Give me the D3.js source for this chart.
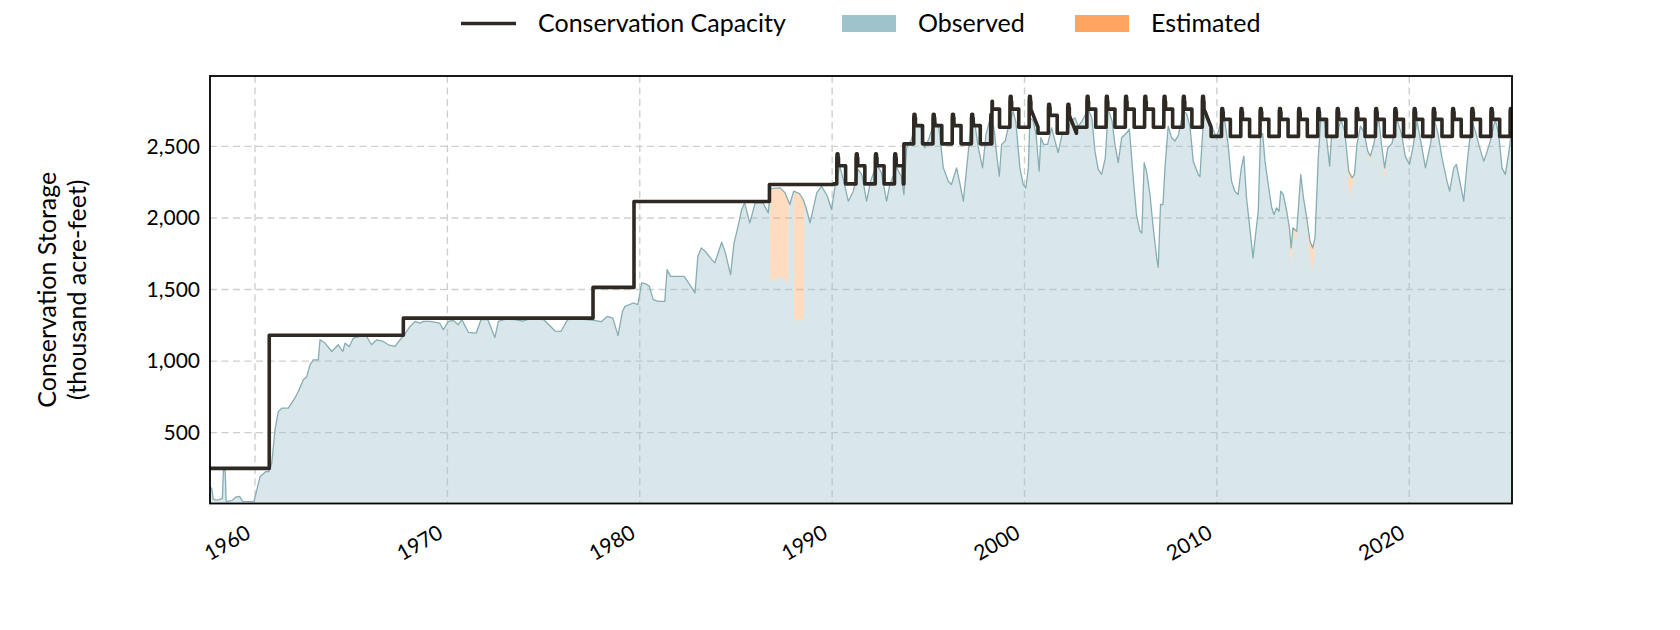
<!DOCTYPE html>
<html><head><meta charset="utf-8">
<script src="https://cdn.jsdelivr.net/npm/d3@7"></script>
<style>
body{margin:0;background:#fff;}
svg{display:block;font-family:Lato,"Open Sans",sans-serif;}
</style>
</head><body>
<svg id="chart" width="1680" height="630"></svg>
<script>
// ---------------- data ----------------
const xTickYears = [1960, 1970, 1980, 1990, 2000, 2010, 2020];
const yTickValues = [500, 1000, 1500, 2000, 2500];
const legendLabels = ["Conservation Capacity", "Observed", "Estimated"];
const yTitleLines = ["Conservation Storage", "(thousand acre-feet)"];

// total conservation storage (decimal year, thousand acre-feet)
const storage = [
[1957.66,120],[1957.75,110],[1957.83,35],[1957.95,30],[1958.1,30],[1958.3,40],[1958.36,240],[1958.45,235],[1958.5,20],
[1958.8,25],[1959.0,50],[1959.2,55],[1959.35,20],[1959.7,18],[1959.95,20],[1960.09,99],[1960.26,192],[1960.55,227],
[1960.71,227],[1960.87,286],[1961.04,519],[1961.21,647],[1961.39,671],[1961.73,671],[1961.9,706],[1962.07,741],
[1962.25,787],[1962.51,869],[1962.68,888],[1962.86,974],[1963.03,1009],[1963.29,1009],[1963.38,1149],[1963.64,1126],
[1963.99,1067],[1964.33,1114],[1964.56,1067],[1964.68,1126],[1964.9,1100],[1965.11,1161],[1965.45,1172],[1965.8,1172],
[1966.06,1114],[1966.33,1149],[1966.67,1137],[1966.93,1114],[1967.28,1102],[1967.54,1149],[1967.8,1191],[1968.06,1242],
[1968.32,1277],[1968.58,1265],[1968.75,1277],[1969.1,1277],[1969.6,1265],[1969.79,1219],[1970.05,1277],[1970.3,1285],
[1970.56,1254],[1970.75,1290],[1971.1,1200],[1971.5,1196],[1971.75,1290],[1972.1,1290],[1972.47,1165],[1972.65,1277],
[1973.0,1292],[1973.5,1290],[1973.9,1280],[1974.3,1295],[1975.0,1290],[1975.6,1210],[1975.9,1207],[1976.25,1290],
[1976.8,1295],[1977.2,1290],[1977.6,1285],[1978.0,1275],[1978.3,1312],[1978.6,1300],[1978.87,1178],[1979.1,1347],
[1979.23,1382],[1979.66,1406],[1979.9,1395],[1980.1,1546],[1980.3,1540],[1980.5,1522],[1980.7,1429],[1980.95,1417],
[1981.3,1417],[1981.42,1639],[1981.6,1592],[1982.0,1592],[1982.3,1592],[1982.6,1534],[1982.87,1476],[1983.02,1732],
[1983.2,1791],[1983.45,1760],[1983.74,1709],[1983.9,1686],[1984.26,1830],[1984.45,1756],[1984.72,1604],[1984.9,1826],
[1985.07,1919],[1985.3,2059],[1985.45,2106],[1985.72,1966],[1986.0,2106],[1986.4,2106],[1986.68,2036],[1986.8,2205],
[1987.3,2210],[1987.55,2176],[1987.8,2094],[1988.0,2187],[1988.3,2170],[1988.5,2129],[1988.67,2059],[1988.85,1966],
[1989.2,2176],[1989.45,2222],[1989.75,2152],[1989.97,2059],[1990.15,2222],[1990.4,2362],[1990.6,2257],[1990.84,2117],
[1991.1,2187],[1991.36,2339],[1991.55,2300],[1991.79,2117],[1992.0,2257],[1992.31,2374],[1992.55,2320],[1992.83,2117],
[1993.0,2234],[1993.35,2350],[1993.6,2290],[1993.73,2164],[1993.87,2490],[1994.13,2549],[1994.3,2654],[1994.6,2650],
[1994.82,2490],[1995.05,2560],[1995.34,2689],[1995.55,2630],[1995.78,2350],[1996.04,2257],[1996.2,2234],[1996.47,2350],
[1996.65,2234],[1996.82,2117],[1997.08,2467],[1997.2,2630],[1997.4,2677],[1997.6,2490],[1997.82,2350],[1998.0,2584],
[1998.29,2735],[1998.45,2584],[1998.55,2444],[1998.69,2292],[1998.81,2514],[1999.0,2540],[1999.15,2630],[1999.41,2747],
[1999.55,2670],[1999.76,2350],[1999.93,2234],[2000.07,2211],[2000.2,2350],[2000.28,2700],[2000.45,2680],[2000.6,2584],
[2000.76,2327],[2000.85,2561],[2001.0,2514],[2001.2,2514],[2001.41,2630],[2001.58,2540],[2001.75,2456],[2001.95,2584],
[2002.2,2584],[2002.38,2665],[2002.62,2700],[2002.8,2640],[2003.0,2680],[2003.31,2759],[2003.5,2700],[2003.66,2467],
[2003.83,2339],[2004.01,2304],[2004.2,2420],[2004.35,2759],[2004.55,2680],[2004.7,2514],[2004.87,2386],[2005.05,2560],
[2005.31,2595],[2005.45,2620],[2005.65,2281],[2005.82,2024],[2006.0,1907],[2006.1,1895],[2006.22,2386],[2006.35,2320],
[2006.52,2164],[2006.69,1931],[2006.87,1721],[2006.95,1655],[2007.07,2094],[2007.2,2094],[2007.3,2350],[2007.47,2642],
[2007.65,2560],[2007.82,2537],[2008.0,2580],[2008.25,2747],[2008.42,2730],[2008.6,2640],[2008.77,2397],[2009.03,2304],
[2009.12,2290],[2009.29,2665],[2009.45,2747],[2009.65,2665],[2009.98,2561],[2010.2,2665],[2010.41,2677],[2010.58,2514],
[2010.76,2257],[2010.93,2187],[2011.1,2164],[2011.27,2350],[2011.4,2432],[2011.54,2141],[2011.71,1931],[2011.88,1721],
[2011.95,1814],[2012.15,2047],[2012.27,2584],[2012.38,2590],[2012.5,2397],[2012.67,2234],[2012.85,2071],[2012.97,2024],
[2013.1,2071],[2013.23,2047],[2013.32,2187],[2013.45,2164],[2013.63,2047],[2013.77,1931],[2013.86,1791],[2013.95,1931],
[2014.15,1907],[2014.36,2304],[2014.5,2141],[2014.67,2001],[2014.84,1837],[2014.98,1791],[2015.1,1861],[2015.27,2421],
[2015.4,2689],[2015.6,2675],[2015.7,2561],[2015.86,2362],[2015.95,2561],[2016.2,2561],[2016.45,2689],[2016.65,2600],
[2016.85,2327],[2017.03,2281],[2017.15,2304],[2017.28,2514],[2017.46,2642],[2017.65,2600],[2017.84,2467],[2017.98,2432],
[2018.15,2514],[2018.41,2700],[2018.55,2520],[2018.72,2350],[2018.88,2490],[2019.1,2520],[2019.36,2689],[2019.6,2584],
[2019.79,2432],[2020.01,2374],[2020.2,2500],[2020.4,2677],[2020.62,2520],[2020.84,2350],[2020.95,2420],[2021.1,2514],
[2021.3,2689],[2021.5,2584],[2021.7,2421],[2021.96,2257],[2022.1,2187],[2022.31,2350],[2022.45,2374],[2022.66,2234],
[2022.83,2117],[2023.0,2374],[2023.13,2537],[2023.26,2677],[2023.45,2600],[2023.66,2490],[2023.87,2397],[2024.0,2444],
[2024.21,2537],[2024.47,2689],[2024.65,2584],[2024.82,2350],[2024.99,2304],[2025.16,2444],[2025.3,2584]
];

// estimated part of the total (decimal year, thousand acre-feet)
const estimated = [
[1986.76,0],[1986.78,640],[1987.0,640],[1987.3,620],[1987.55,600],[1987.72,580],[1987.74,0],
[1988.0,0],[1988.02,900],[1988.3,880],[1988.53,830],[1988.55,0],
[2006.93,0],[2006.95,150],[2006.97,0],
[2013.6,0],[2013.77,60],[2013.86,120],[2013.95,80],[2014.15,40],[2014.3,0],
[2014.5,0],[2014.67,60],[2014.84,120],[2014.98,150],[2015.1,90],[2015.22,0],
[2016.7,0],[2016.85,170],[2017.03,70],[2017.15,0],
[2017.8,0],[2017.95,45],[2018.05,0],
[2018.6,0],[2018.72,85],[2018.82,0],
[2021.85,0],[2021.96,30],[2022.05,0]
];

// conservation capacity: flat steps, then seasonal eras
const capacitySteps = [[1957.66,250],[1960.74,1180],[1967.71,1300],[1977.57,1515],[1979.70,2115],[1986.74,2234]];
const capacityEraStart = [1990.08, 1993.73, 1998.30, 2000.70, 2002.70, 2009.70];
const capacityEraEnd   = [1993.73, 1998.30, 2000.70, 2002.70, 2009.70, 2025.34];
const capacityEraLow   = [2238, 2518, 2634, 2592, 2634, 2570];
const capacityEraHigh  = [2420, 2700, 2815, 2770, 2815, 2740];
const capacityEraPeak  = [2448, 2725, 2850, 2795, 2850, 2764];
// seasonal rule-curve shape within a year: fraction of year, level (0 = low, 1 = high, 2 = peak)
const seasonFrac  = [0.00, 0.24, 0.245, 0.26, 0.275, 0.30, 0.315, 0.33, 0.33, 0.70, 0.70];
const seasonLevel = [0,    0,    1,     2,    2,     2,    1,     1,    0.7,  0.7,  0];

// ---------------- layout ----------------
const svg = d3.select("#chart");
const W = 1680, H = 630;
const plot = {left: 210, right: 1512, top: 76, bottom: 503.5};
const x = d3.scaleLinear().domain([1957.66, 2025.34]).range([plot.left, plot.right]);
const y = d3.scaleLinear().domain([0, 2992]).range([504.2, plot.top]);

svg.append("rect").attr("width", W).attr("height", H).attr("fill", "#fff");

const defs = svg.append("defs");
defs.append("clipPath").attr("id", "clip").append("rect")
  .attr("x", plot.left).attr("y", plot.top)
  .attr("width", plot.right - plot.left).attr("height", plot.bottom - plot.top);

// grid
const grid = svg.append("g").attr("stroke", "#cfcfcf").attr("stroke-width", 1.4).attr("stroke-dasharray", "7,4.5");
grid.selectAll("line.v").data(xTickYears).join("line")
  .attr("x1", d => x(d)).attr("x2", d => x(d)).attr("y1", plot.top).attr("y2", plot.bottom);
grid.selectAll("line.h").data(yTickValues).join("line")
  .attr("x1", plot.left).attr("x2", plot.right).attr("y1", d => y(d)).attr("y2", d => y(d));

// combine storage & estimated on a common time base
function interp(arr, t) {
  if (t <= arr[0][0]) return arr[0][1];
  if (t >= arr[arr.length-1][0]) return arr[arr.length-1][1];
  const i = d3.bisector(d => d[0]).right(arr, t);
  const a = arr[i-1], b = arr[i];
  return a[1] + (b[1]-a[1]) * (t - a[0]) / (b[0]-a[0]);
}
function interpEst(t) {
  if (t < estimated[0][0] || t > estimated[estimated.length-1][0]) return 0;
  return interp(estimated, t);
}
const times = Array.from(new Set(storage.map(d => d[0]).concat(estimated.map(d => d[0])))).sort((a,b) => a-b);
const series = times.map(t => {
  const total = interp(storage, t);
  const est = Math.min(interpEst(t), total);
  return {t, total, obs: total - est};
});

const g = svg.append("g").attr("clip-path", "url(#clip)");
g.append("path").datum(series)
  .attr("fill", "#9fc3ca").attr("fill-opacity", 0.4)
  .attr("d", d3.area().x(d => x(d.t)).y0(y(0) + 2).y1(d => y(d.obs)));
g.append("path").datum(series)
  .attr("fill", "#ffa55f").attr("fill-opacity", 0.4)
  .attr("d", d3.area().x(d => x(d.t)).y0(d => y(d.obs)).y1(d => y(d.total)));
g.append("path").datum(storage)
  .attr("fill", "none").attr("stroke", "#86adb4").attr("stroke-width", 1.3)
  .attr("stroke-linejoin", "round")
  .attr("d", d3.line().x(d => x(d[0])).y(d => y(d[1])));

// capacity line
const capPts = [];
capacitySteps.forEach((s, i) => {
  const end = i < capacitySteps.length - 1 ? capacitySteps[i+1][0] : capacityEraStart[0];
  capPts.push([s[0], s[1]], [end, s[1]]);
});
capacityEraStart.forEach((start, e) => {
  const end = capacityEraEnd[e];
  const lo = capacityEraLow[e], hi = capacityEraHigh[e], pk = capacityEraPeak[e];
  const lvl = v => v <= 1 ? lo + v * (hi - lo) : pk;
  capPts.push([start, lo]);
  for (let yr = Math.floor(start); yr < end; yr++) {
    seasonFrac.forEach((f, k) => {
      const t = yr + f;
      if (t > start && t < end) capPts.push([t, lvl(seasonLevel[k])]);
    });
  }
  capPts.push([end, lo]);
});
g.append("path").datum(capPts)
  .attr("fill", "none").attr("stroke", "#2e2a23").attr("stroke-width", 3.6)
  .attr("stroke-linejoin", "round")
  .attr("d", d3.line().x(d => x(d[0])).y(d => y(d[1])).curve(d3.curveLinear));

// frame
svg.append("rect").attr("x", plot.left).attr("y", plot.top)
  .attr("width", plot.right - plot.left).attr("height", plot.bottom - plot.top)
  .attr("fill", "none").attr("stroke", "#000").attr("stroke-width", 1.8);

// y tick labels
svg.append("g").selectAll("text").data(yTickValues).join("text")
  .attr("x", 200).attr("y", d => y(d)).attr("dy", "0.35em")
  .attr("text-anchor", "end").attr("font-size", 21).attr("fill", "#000")
  .text(d => d3.format(",")(d));

// x tick labels
svg.append("g").selectAll("text").data(xTickYears).join("text")
  .attr("transform", d => `translate(${x(d) - 3},537) rotate(-30)`)
  .attr("text-anchor", "end").attr("font-size", 21).attr("fill", "#000")
  .text(d => d);

// y title
const yt = svg.append("text").attr("transform", `translate(0,${(plot.top + plot.bottom)/2}) rotate(-90)`)
  .attr("text-anchor", "middle").attr("font-size", 25).attr("fill", "#000");
yt.append("tspan").attr("x", 0).attr("y", 56).text(yTitleLines[0]);
yt.append("tspan").attr("x", 0).attr("y", 86).text(yTitleLines[1]);

// legend
const lg = svg.append("g").attr("font-size", 25).attr("fill", "#000");
lg.append("line").attr("x1", 461).attr("x2", 516).attr("y1", 23.5).attr("y2", 23.5)
  .attr("stroke", "#2e2a23").attr("stroke-width", 3.6);
lg.append("text").attr("x", 538).attr("y", 32).text(legendLabels[0]);
lg.append("rect").attr("x", 842).attr("y", 15).attr("width", 54).attr("height", 17).attr("fill", "#9fc3ca");
lg.append("text").attr("x", 918).attr("y", 32).text(legendLabels[1]);
lg.append("rect").attr("x", 1075).attr("y", 15).attr("width", 54).attr("height", 17).attr("fill", "#ffa55f");
lg.append("text").attr("x", 1151).attr("y", 32).text(legendLabels[2]);
</script>
</body></html>
